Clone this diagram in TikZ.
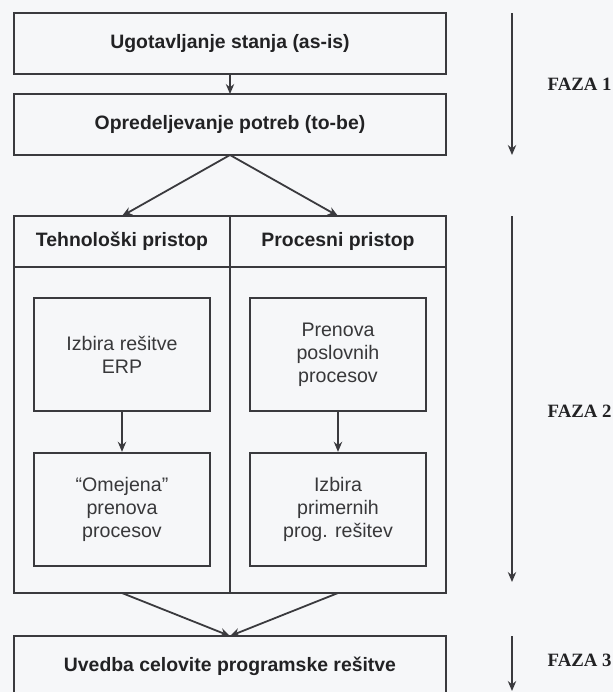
\documentclass[tikz,border=0pt]{standalone}
\usepackage{fontspec}
\setmainfont{Liberation Sans}
\newfontfamily\fazafont{Liberation Serif}
\usetikzlibrary{positioning,arrows.meta}
\definecolor{paper}{RGB}{246,247,249}
\definecolor{ink}{RGB}{58,58,62}
\definecolor{txt}{RGB}{34,34,36}

\begin{document}
\begin{tikzpicture}[
                    node distance=10pt,
                    >={Stealth[length=5pt,width=4.2pt]},
                    phase/.style={rectangle, draw=ink, line width=0.9pt, outer sep=0pt, text=txt, minimum width=216pt, minimum height=30.5pt, font=\fontsize{9.7}{12}\selectfont\bfseries},
                    head/.style={phase, minimum width=108pt, minimum height=25.5pt},
                    task/.style={rectangle, draw=ink, line width=0.9pt, text=txt!90, minimum width=88pt, minimum height=56.5pt, align=center, font=\fontsize{9.8}{11.5}\selectfont},
                    faza/.style={inner sep=0pt, text=txt, font=\fazafont\fontsize{9.4}{11}\selectfont\bfseries},
                    link/.style={->, draw=ink, line width=0.9pt}
                ]
                \fill [paper] (0,0) rectangle (306.5pt,-346pt);
                \useasboundingbox (0,0) rectangle (306.5pt,-346pt);
                % Blocks
                \node [phase] (asis) at (115pt,-21.75pt) {Ugotavljanje stanja (as-is)};
                \node [phase,below=of asis] (tobe) {Opredeljevanje potreb (to-be)};
                \node [head,below left=30.5pt and 0pt of tobe.south] (tech) {Tehnološki pristop};
                \node [head,right=0pt of tech] (proc) {Procesni pristop};
                \node [rectangle,draw=ink,line width=0.9pt,outer sep=0pt,minimum width=216pt,minimum height=188.5pt,anchor=north west] (approach) at (tech.north west) {};
                \node [task,below=15pt of tech] (erp) {Izbira rešitve\\ERP};
                \node [task,below=20pt of erp] (reorg) {“Omejena”\\prenova\\procesov};
                \node [task,below=15pt of proc] (bpr) {Prenova\\poslovnih\\procesov};
                \node [task,below=20pt of bpr] (pick) {Izbira\\primernih\\prog. rešitev};
                \node [phase,below=21.5pt of approach,minimum height=30pt] (impl) {Uvedba celovite programske rešitve};
                \draw [ink,line width=0.9pt] (approach.north) -- (approach.south);

                % Phases
                \coordinate [right=33pt of asis.north east] (f1top);
                \coordinate [right=33pt of tobe.south east] (f1end);
                \coordinate [right=33pt of approach.north east] (f2top);
                \coordinate [right=33pt of approach.south east,yshift=5.5pt] (f2end);
                \coordinate [right=33pt of impl.north east] (f3top);
                \coordinate [below=27.5pt of f3top] (f3end);

                % Connections
                \draw [link,line width=0.6pt] (asis) -- (tobe);
                \draw [link] (tobe.south) -- (tech.north);
                \draw [link] (tobe.south) -- (proc.north);
                \draw [link] (erp) -- (reorg);
                \draw [link] (bpr) -- (pick);
                \draw [link] (tech |- approach.south) -- (impl.north);
                \draw [link] (proc |- approach.south) -- (impl.north);
                \draw [link,line width=0.7pt] (f1top) -- node [faza,right=17.5pt] (faza1) {FAZA 1} (f1end);
                \draw [link,line width=0.7pt] (f2top) -- node [faza,pos=0.534,right=17.5pt] (faza2) {FAZA 2} (f2end);
                \draw [link,line width=0.7pt] (f3top) -- node [faza,pos=0.45,right=17.5pt] (faza3) {FAZA 3} (f3end);
            \end{tikzpicture}
\end{document}
